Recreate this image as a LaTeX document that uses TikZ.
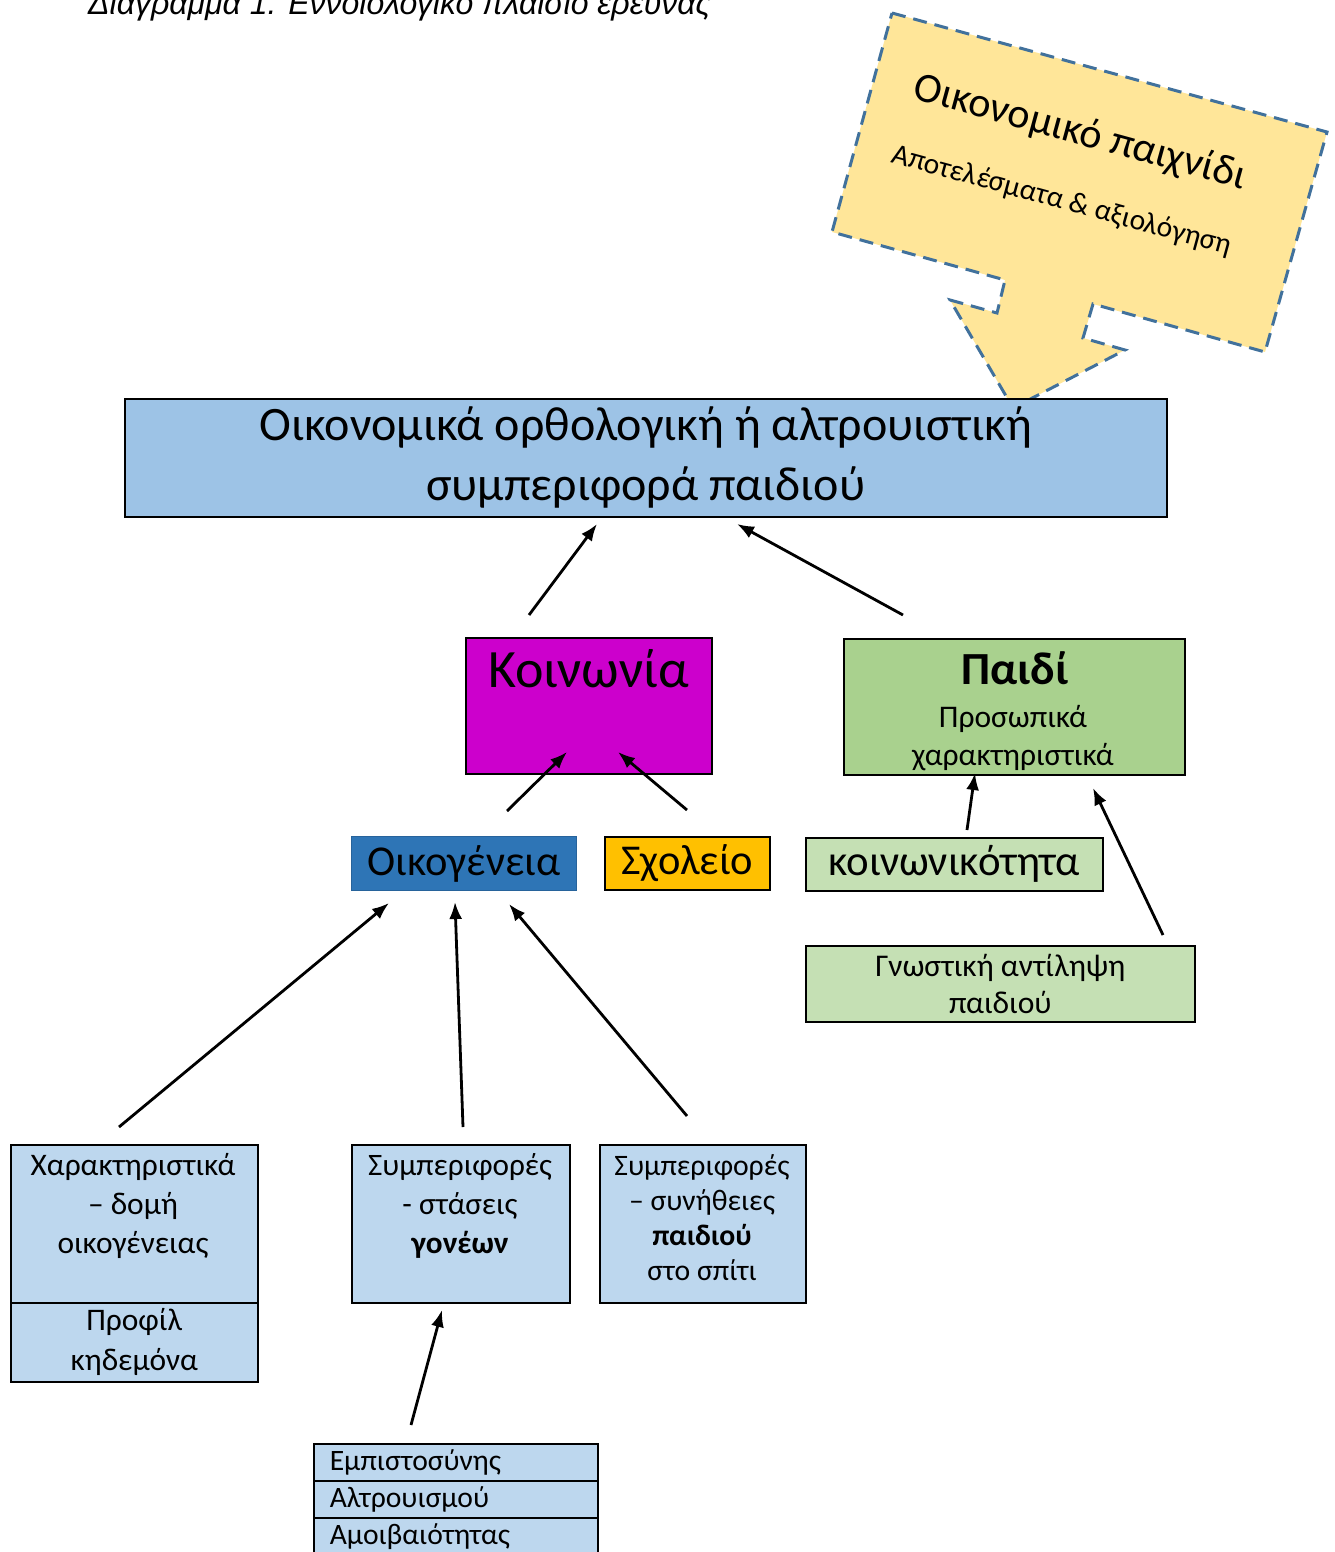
\documentclass[tikz,border=0pt]{standalone}
\usepackage{fontspec}
\setmainfont{Carlito}
\newfontfamily\captionfont{Liberation Sans}
\usetikzlibrary{arrows.meta,positioning}

\definecolor{mainblue}{HTML}{9DC3E6}
\definecolor{socmag}{HTML}{CC00CC}
\definecolor{childgreen}{HTML}{A9D18E}
\definecolor{famblue}{HTML}{2E75B6}
\definecolor{schoolgold}{HTML}{FFC000}
\definecolor{palegreen}{HTML}{C5E0B4}
\definecolor{paleblue}{HTML}{BDD7EE}
\definecolor{gameyellow}{HTML}{FFE699}
\definecolor{dashblue}{HTML}{41719C}

\tikzset{
  box/.style={draw=black,line width=1.6pt,anchor=north west,inner sep=0pt,align=center},
  arr/.style={-{Latex[length=17pt,width=13pt]},line width=2.8pt},
}

\begin{document}
\begin{tikzpicture}[x=1pt,y=-1pt]
    \useasboundingbox (0,0) rectangle (1335,1552);

    \node[anchor=base west,inner sep=0pt,font=\captionfont\itshape\fontsize{32}{38}\selectfont] (caption) at (88,15) {Διάγραμμα 1. Εννοιολογικό πλαίσιο έρευνας};

    % callout
    \draw[fill=gameyellow,draw=dashblue,line width=3pt,dash pattern=on 14pt off 8pt]
        (892,13) -- (1327,132) -- (1265,352) -- (1093,304) -- (1083,338) -- (1125,350)
        -- (1013,408) -- (950,300) -- (997,313) -- (1005,280) -- (832,232) -- cycle;
    \node[rotate=-15.3,font=\fontsize{42}{46}\selectfont] (gametitle) at (1080,133) {Οικονομικό παιχνίδι};
    \node[rotate=-15.3,font=\fontsize{29.5}{32}\selectfont] (gamesub) at (1062,201) {Αποτελέσματα \& αξιολόγηση};

    \node[box,fill=mainblue,minimum width=1042pt,minimum height=118pt,font=\fontsize{48}{60}\selectfont] (behav) at (124,398) {Οικονομικά ορθολογική ή αλτρουιστική\\συμπεριφορά παιδιού};

    \node[box,fill=socmag,minimum width=246pt,minimum height=136pt] (society) at (465,637) {};
    \node[font=\fontsize{54}{58}\selectfont,below=9pt of society.north] (societyT) {Κοινωνία};

    \node[box,fill=childgreen,minimum width=341pt,minimum height=136pt] (child) at (843,638) {};
    \node[anchor=base,font=\fontsize{46}{50}\selectfont\bfseries] (childT) at (1015,684) {Παιδί};
    \node[anchor=base,font=\fontsize{31.5}{36}\selectfont] (childT2) at (1013,727) {Προσωπικά};
    \node[anchor=base,font=\fontsize{31.5}{36}\selectfont] (childT3) at (1013,765) {χαρακτηριστικά};

    \node[box,draw=famblue!85!black,line width=1pt,fill=famblue,minimum width=225pt,minimum height=54pt,font=\fontsize{42.5}{46}\selectfont] (family) at (351,836) {Οικογένεια};
    \node[box,fill=schoolgold,minimum width=165pt,minimum height=53pt,font=\fontsize{42.5}{46}\selectfont] (school) at (604,836) {Σχολείο};
    \node[box,fill=palegreen,minimum width=297pt,minimum height=53pt,font=\fontsize{42.8}{46}\selectfont] (sociab) at (805,837) {κοινωνικότητα};
    \node[box,fill=palegreen,minimum width=389pt,minimum height=76pt,font=\fontsize{31.6}{37}\selectfont] (cogn) at (805,945) {Γνωστική αντίληψη\\παιδιού};

    \node[box,fill=paleblue,minimum width=247pt,minimum height=158pt] (famfeat) at (10,1144) {};
    \node[align=center,font=\fontsize{31.4}{39}\selectfont] (famfeatT) at (133,1206) {Χαρακτηριστικά\\– δομή\\οικογένειας};
    \node[box,fill=paleblue,minimum width=247pt,minimum height=79pt,font=\fontsize{31.4}{40}\selectfont] (carer) at (10,1302) {Προφίλ\\κηδεμόνα};

    \node[box,fill=paleblue,minimum width=218pt,minimum height=158pt] (parents) at (351,1144) {};
    \node[align=center,font=\fontsize{31.2}{39}\selectfont] (parentsT) at (460,1206) {Συμπεριφορές\\- στάσεις\\\textbf{γονέων}};

    \node[box,fill=paleblue,minimum width=206pt,minimum height=158pt] (kidhome) at (599,1144) {};
    \node[align=center,font=\fontsize{29.7}{35}\selectfont] (kidhomeT) at (702,1218) {Συμπεριφορές\\– συνήθειες\\\textbf{παιδιού}\\στο σπίτι};

    \foreach \name/\txt/\y in {trust/Εμπιστοσύνης/1443,altru/Αλτρουισμού/1480,recip/Αμοιβαιότητας/1517}
        \node[box,fill=paleblue,minimum height=37pt,text width=252pt,inner xsep=16pt,align=left,font=\fontsize{29.6}{32}\selectfont] (\name) at (313,\y) {\txt};

    \coordinate (socOut) at (529,615);   \coordinate (behavIn1) at (597,524);
    \coordinate (childOut) at (903,615); \coordinate (behavIn2) at (737,524);
    \coordinate (famOut) at (507,811);   \coordinate (socIn1) at (567,752);
    \coordinate (schOut) at (687,810);   \coordinate (socIn2) at (618,752);
    \coordinate (sbOut) at (967,830);    \coordinate (childIn1) at (975,773);
    \coordinate (cgOut) at (1163,935);   \coordinate (childIn2) at (1093,788);
    \coordinate (ffOut) at (119,1127);   \coordinate (famIn1) at (389,903);
    \coordinate (parOut) at (463,1127);  \coordinate (famIn2) at (455,902);
    \coordinate (khOut) at (687,1116);   \coordinate (famIn3) at (509,904);
    \coordinate (valOut) at (411,1425);  \coordinate (parIn) at (442,1310);

    \foreach \from/\to in {socOut/behavIn1,childOut/behavIn2,famOut/socIn1,schOut/socIn2,sbOut/childIn1,cgOut/childIn2,ffOut/famIn1,parOut/famIn2,khOut/famIn3,valOut/parIn}
        \draw[arr] (\from) -- (\to);
\end{tikzpicture}
\end{document}
